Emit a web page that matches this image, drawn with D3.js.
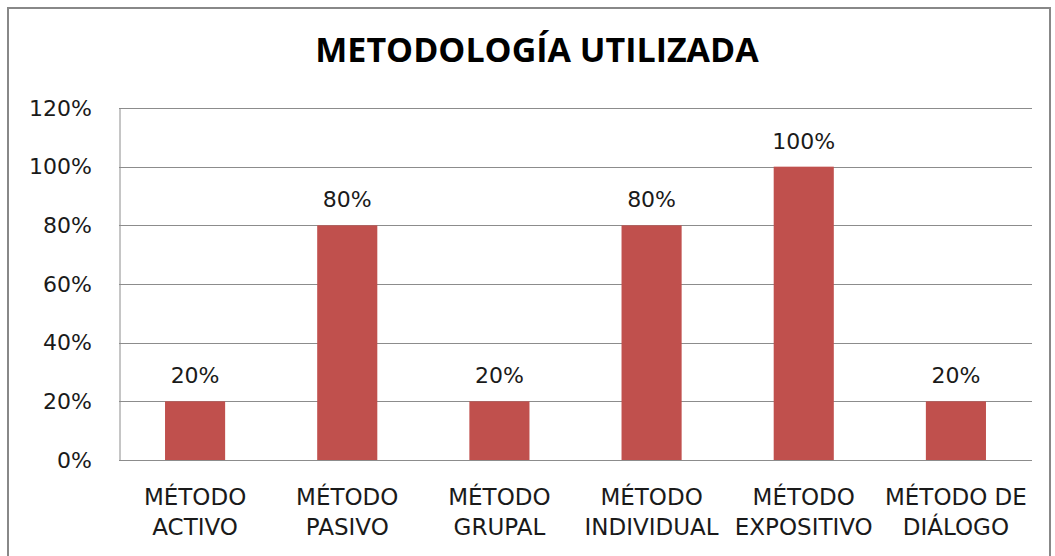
<!DOCTYPE html>
<html>
<head>
<meta charset="utf-8">
<script src="https://d3js.org/d3.v7.min.js"></script>
<style>
  body { margin: 0; background: #fff; }
  text { font-family: "DejaVu Sans", sans-serif; fill: #1a1a1a; }
</style>
</head>
<body>
<div id="chart"></div>
<script>
// chart data
var categories = ["MÉTODO ACTIVO", "MÉTODO PASIVO", "MÉTODO GRUPAL", "MÉTODO INDIVIDUAL", "MÉTODO EXPOSITIVO", "MÉTODO DE DIÁLOGO"];
var labelLines = [["MÉTODO", "ACTIVO"], ["MÉTODO", "PASIVO"], ["MÉTODO", "GRUPAL"], ["MÉTODO", "INDIVIDUAL"], ["MÉTODO", "EXPOSITIVO"], ["MÉTODO DE", "DIÁLOGO"]];
var values = [0.2, 0.8, 0.2, 0.8, 1.0, 0.2];
var yTicks = [0, 0.2, 0.4, 0.6, 0.8, 1.0, 1.2];

var W = 1055, H = 556;
var margin = {top: 108, right: 23, bottom: 96, left: 119};
var width = W - margin.left - margin.right,
    height = H - margin.top - margin.bottom;

var svg = d3.select("#chart").append("svg")
    .attr("width", W).attr("height", H);

// outer chart frame
svg.append("rect")
    .attr("x", 8).attr("y", 8)
    .attr("width", 1042).attr("height", 560)
    .attr("fill", "none")
    .attr("stroke", "#888")
    .attr("stroke-width", 2);

// title
svg.append("text")
    .attr("x", 537).attr("y", 62)
    .attr("text-anchor", "middle")
    .style("font-family", "'Open Sans', sans-serif")
    .style("font-size", "34px")
    .style("font-weight", "bold")
    .style("fill", "#000")
    .text("METODOLOGÍA UTILIZADA");

var g = svg.append("g")
    .attr("transform", "translate(" + margin.left + "," + margin.top + ")");

var x = d3.scaleBand().domain(categories).range([0, width]).padding(0);
var y = d3.scaleLinear().domain([0, 1.2]).range([height, 0]);

// gridlines
g.append("g")
  .selectAll("line")
  .data(yTicks)
  .enter().append("line")
    .attr("x1", 0).attr("x2", width)
    .attr("y1", function(d) { return Math.round(y(d)) + 0.5; })
    .attr("y2", function(d) { return Math.round(y(d)) + 0.5; })
    .attr("stroke", "#8c8c8c");

// y axis
var yAxis = g.append("g")
    .call(d3.axisLeft(y).tickValues(yTicks).tickSize(0).tickPadding(27).tickFormat(d3.format(".0%")));
yAxis.select(".domain").attr("stroke", "#8c8c8c").attr("transform", "translate(0.5,0)");
yAxis.selectAll("text")
    .style("font-family", "'DejaVu Sans', sans-serif")
    .style("font-size", "22px")
    .attr("fill", "#1a1a1a");

// bars
var barW = x.bandwidth() * 0.395;
g.selectAll(".bar")
    .data(values)
  .enter().append("rect")
    .attr("class", "bar")
    .attr("x", function(d, i) { return x(categories[i]) + (x.bandwidth() - barW) / 2; })
    .attr("y", function(d) { return y(d); })
    .attr("width", barW)
    .attr("height", function(d) { return height - y(d); })
    .attr("fill", "#c0504d");

// value labels
g.selectAll(".val")
    .data(values)
  .enter().append("text")
    .attr("class", "val")
    .attr("x", function(d, i) { return x(categories[i]) + x.bandwidth() / 2; })
    .attr("y", function(d) { return y(d) - 18; })
    .attr("text-anchor", "middle")
    .style("font-size", "22px")
    .text(function(d) { return d3.format(".0%")(d); });

// x category labels, two lines
var xl = g.selectAll(".xl")
    .data(labelLines)
  .enter().append("text")
    .attr("class", "xl")
    .attr("text-anchor", "middle")
    .style("font-size", "23px")
    .attr("transform", function(d, i) {
      return "translate(" + (x(categories[i]) + x.bandwidth() / 2) + "," + (height + 45) + ")";
    });
xl.selectAll("tspan")
    .data(function(d) { return d; })
  .enter().append("tspan")
    .attr("x", 0)
    .attr("y", function(d, j) { return j * 30; })
    .text(function(d) { return d; });
</script>
</body>
</html>
